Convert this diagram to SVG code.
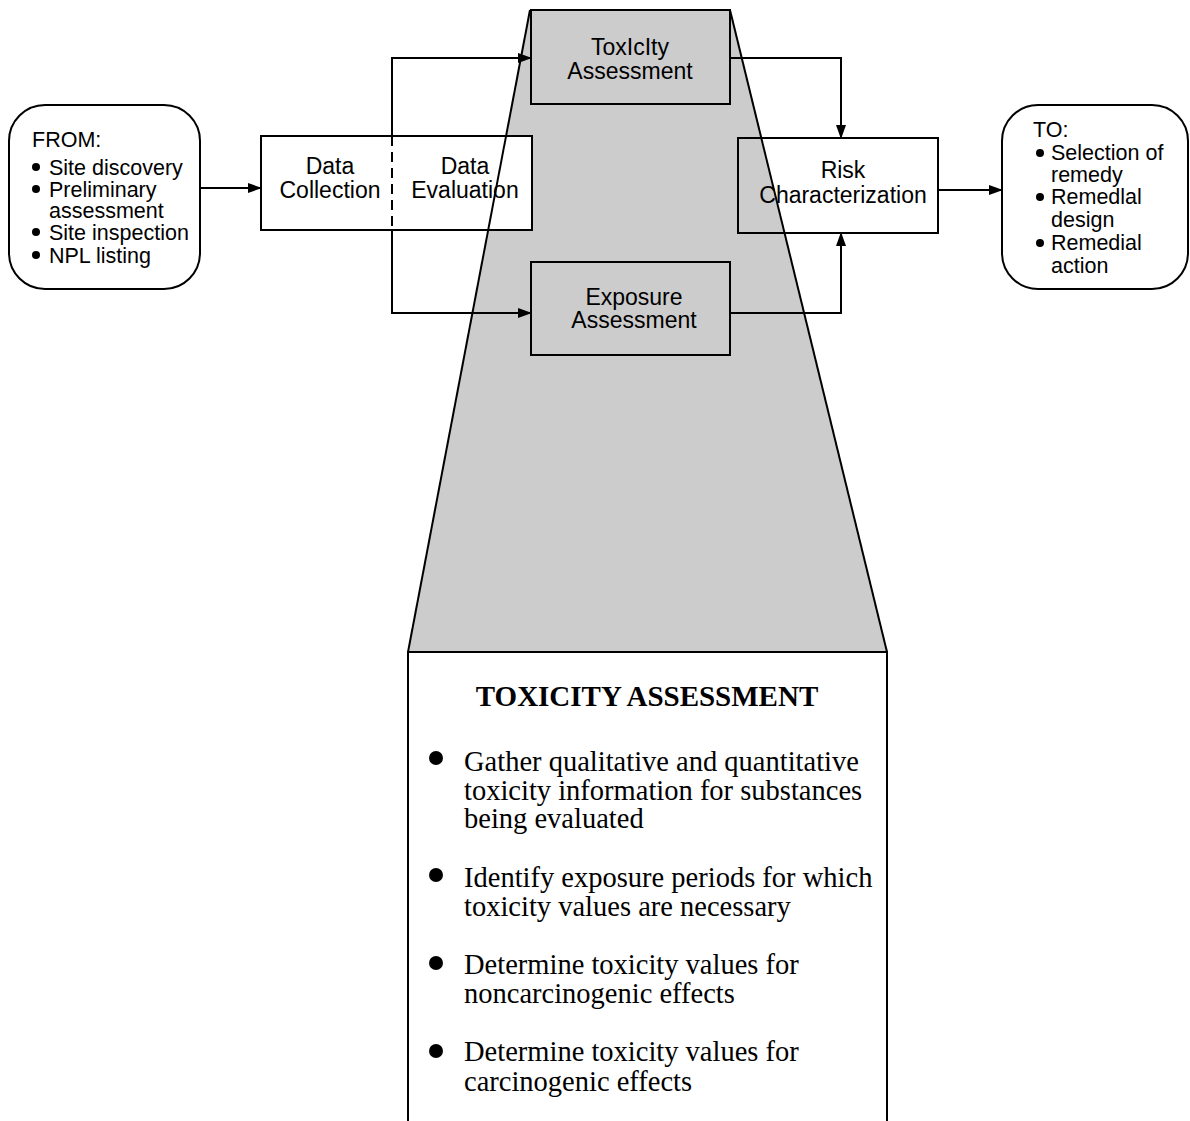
<svg xmlns="http://www.w3.org/2000/svg" width="1190" height="1121" viewBox="0 0 1190 1121">
<style>
.box{stroke:#000;stroke-width:2}
.ln{fill:none;stroke:#000;stroke-width:2}
.t{font-family:"Liberation Sans",Arial,sans-serif;font-size:23px;fill:#000;text-anchor:middle}
.s{font-family:"Liberation Sans",Arial,sans-serif;font-size:21.5px;fill:#000}
.tt{font-family:"Liberation Serif","Times New Roman",serif;font-size:29px;font-weight:bold;fill:#000;text-anchor:middle}
.b{font-family:"Liberation Serif","Times New Roman",serif;font-size:28.5px;fill:#000}
</style>
<defs>
<marker id="ah" markerWidth="14" markerHeight="10" refX="13" refY="5" orient="auto" markerUnits="userSpaceOnUse">
<path d="M0,0 L14,5 L0,10 Z" fill="#000"/>
</marker>
</defs>
<rect width="1190" height="1121" fill="#fff"/>
<g id="funnel">
<polygon points="530,10 730,10 887,652 408,652" fill="#cccccc"/>
</g>
<g id="data">
<rect class="box" x="261" y="136" width="271" height="94" fill="#fff"/>
<text class="t" x="330" y="174">Data</text>
<text class="t" x="330" y="198">Collection</text>
<text class="t" x="465" y="174">Data</text>
<text class="t" x="465" y="198">Evaluation</text>
</g>
<g id="funnel-edges">
<line class="ln" x1="530" y1="10" x2="408" y2="652"/>
<line class="ln" x1="730" y1="10" x2="887" y2="652"/>
</g>
<g id="toxicity">
<rect class="box" x="531" y="10" width="199" height="94" fill="#cccccc"/>
<text class="t" x="630" y="55">ToxIcIty</text>
<text class="t" x="630" y="79">Assessment</text>
</g>
<g id="exposure">
<rect class="box" x="531" y="262" width="199" height="93" fill="#cccccc"/>
<text class="t" x="634" y="305">Exposure</text>
<text class="t" x="634" y="328">Assessment</text>
</g>
<g id="risk">
<rect class="box" x="738" y="138" width="200" height="95" fill="none"/>
<text class="t" x="843" y="178">Risk</text>
<text class="t" x="843" y="203">Characterization</text>
</g>
<g id="from">
<rect class="box" x="9" y="105" width="191" height="184" rx="36" ry="36" fill="#fff"/>
<text class="s" x="32" y="147">FROM:</text>
<circle cx="36" cy="167" r="4"/>
<text class="s" x="49" y="175">Site discovery</text>
<circle cx="36" cy="189" r="4"/>
<text class="s" x="49" y="197">Preliminary</text>
<text class="s" x="49" y="218">assessment</text>
<circle cx="36" cy="232" r="4"/>
<text class="s" x="49" y="240">Site inspection</text>
<circle cx="36" cy="255" r="4"/>
<text class="s" x="49" y="263">NPL listing</text>
</g>
<g id="to">
<rect class="box" x="1002" y="105" width="186" height="184" rx="36" ry="36" fill="#fff"/>
<text class="s" x="1033" y="137">TO:</text>
<circle cx="1040" cy="153" r="4"/>
<text class="s" x="1051" y="160">Selection of</text>
<text class="s" x="1051" y="182">remedy</text>
<circle cx="1040" cy="197" r="4"/>
<text class="s" x="1051" y="204">Remedlal</text>
<text class="s" x="1051" y="227">design</text>
<circle cx="1040" cy="243" r="4"/>
<text class="s" x="1051" y="250">Remedial</text>
<text class="s" x="1051" y="273">action</text>
</g>
<g id="connectors">
<line class="ln" x1="201" y1="188" x2="261" y2="188" marker-end="url(#ah)"/>
<polyline class="ln" points="392,136 392,58 531,58" marker-end="url(#ah)"/>
<polyline class="ln" points="392,230 392,313 531,313" marker-end="url(#ah)"/>
<line x1="392" y1="136" x2="392" y2="230" stroke="#000" stroke-width="2" stroke-dasharray="10,6"/>
<polyline class="ln" points="730,58 841,58 841,138" marker-end="url(#ah)"/>
<polyline class="ln" points="730,313 841,313 841,233" marker-end="url(#ah)"/>
<line class="ln" x1="938" y1="190" x2="1002" y2="190" marker-end="url(#ah)"/>
</g>
<g id="detail">
<rect x="408" y="652" width="479" height="480" fill="#fff"/>
<polyline class="ln" points="408,1121 408,652 887,652 887,1121"/>
<text class="tt" x="647" y="706">TOXICITY ASSESSMENT</text>
<circle cx="436" cy="758" r="7"/>
<text class="b" x="464" y="771">Gather qualitative and quantitative</text>
<text class="b" x="464" y="800">toxicity information for substances</text>
<text class="b" x="464" y="828">being evaluated</text>
<circle cx="436" cy="875" r="7"/>
<text class="b" x="464" y="887">Identify exposure periods for which</text>
<text class="b" x="464" y="916">toxicity values are necessary</text>
<circle cx="436" cy="963" r="7"/>
<text class="b" x="464" y="974">Determine toxicity values for</text>
<text class="b" x="464" y="1003">noncarcinogenic effects</text>
<circle cx="436" cy="1051" r="7"/>
<text class="b" x="464" y="1061">Determine toxicity values for</text>
<text class="b" x="464" y="1091">carcinogenic effects</text>
</g>
</svg>
